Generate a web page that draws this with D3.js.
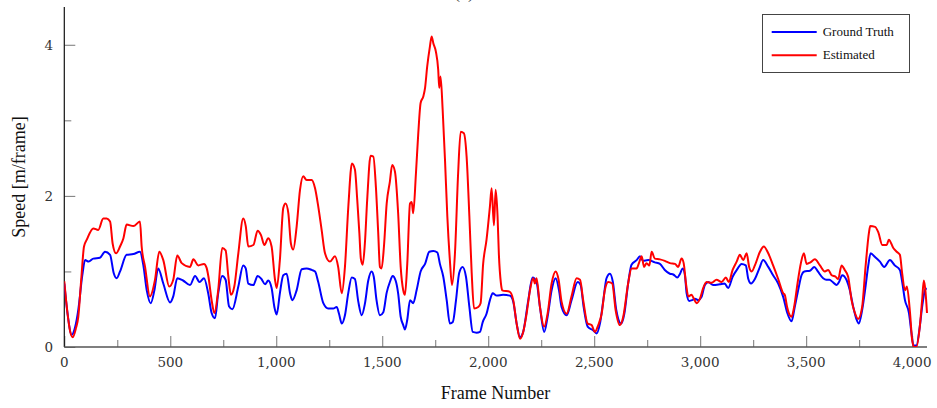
<!DOCTYPE html>
<html>
<head>
<meta charset="utf-8">
<script src="https://cdn.jsdelivr.net/npm/d3@7"></script>
<style>
  html, body { margin: 0; padding: 0; background: #fff; }
  svg { display: block; }
</style>
</head>
<body>
<svg id="chart" width="937" height="408"></svg>
<script>
const title = "(a)";
const xLabel = "Frame Number";
const yLabel = "Speed [m/frame]";
const seriesNames = ["Ground Truth", "Estimated"];
const xTickValues = [0, 500, 1000, 1500, 2000, 2500, 3000, 3500, 4000];
const xMinorTicks = [250, 750, 1250, 1750, 2250, 2750, 3250, 3750];
const yTickValues = [0, 2, 4];
const yMinorTicks = [1, 3];

const gtFrames = [0,15,35,50,66,85,98,115,137,168,192,216,233,247,263,294,326,357,373,389,408,425,443,467,499,514,533,560,593,617,638,659,679,695,711,726,745,761,777,793,821,844,856,868,892,912,930,947,962,978,991,1002,1017,1033,1049,1065,1076,1096,1120,1143,1167,1183,1198,1222,1245,1269,1285,1296,1309,1324,1340,1356,1371,1387,1403,1418,1434,1450,1460,1473,1489,1505,1521,1536,1549,1563,1575,1587,1599,1607,1618,1631,1646,1662,1681,1702,1722,1741,1760,1772,1788,1804,1819,1833,1848,1863,1879,1895,1911,1927,1945,1961,1974,1992,2008,2021,2040,2070,2102,2118,2134,2150,2165,2189,2209,2228,2244,2264,2280,2299,2318,2334,2346,2370,2393,2422,2436,2450,2469,2496,2511,2527,2543,2558,2574,2588,2604,2627,2642,2660,2676,2700,2716,2730,2755,2786,2810,2833,2857,2873,2892,2905,2917,2928,2936,2948,2962,2975,2991,3006,3022,3038,3061,3093,3115,3132,3153,3175,3195,3215,3227,3240,3258,3279,3297,3321,3344,3368,3392,3411,3431,3446,3462,3478,3491,3518,3538,3555,3580,3595,3610,3625,3644,3655,3670,3690,3706,3722,3737,3748,3764,3780,3793,3804,3825,3848,3868,3895,3918,3942,3953,3966,3985,3997,4006,4020,4036,4047,4060,4068];
const gtSpeed = [0.84,0.45,0.16,0.25,0.49,0.95,1.15,1.13,1.17,1.18,1.26,1.22,0.98,0.91,1.0,1.22,1.23,1.26,1.08,0.75,0.58,0.75,1.04,0.84,0.59,0.67,0.91,0.88,0.82,0.94,0.86,0.91,0.71,0.45,0.38,0.71,0.94,0.89,0.54,0.50,0.80,1.08,1.04,0.84,0.82,0.94,0.90,0.83,0.88,0.78,0.53,0.43,0.71,0.95,0.97,0.71,0.62,0.75,1.03,1.04,1.02,1.0,0.86,0.58,0.51,0.51,0.53,0.44,0.31,0.42,0.72,0.92,0.90,0.60,0.42,0.57,0.88,1.0,0.93,0.62,0.42,0.46,0.72,0.86,0.94,0.88,0.71,0.40,0.29,0.23,0.36,0.62,0.58,0.75,1.0,1.10,1.26,1.27,1.25,1.10,0.93,0.62,0.31,0.33,0.62,0.98,1.06,0.93,0.53,0.20,0.19,0.20,0.33,0.44,0.62,0.71,0.68,0.69,0.68,0.60,0.31,0.13,0.20,0.62,0.92,0.86,0.53,0.20,0.40,0.75,0.91,0.75,0.53,0.42,0.62,0.86,0.82,0.53,0.27,0.22,0.18,0.31,0.62,0.91,0.97,0.86,0.49,0.31,0.44,0.84,1.09,1.15,1.20,1.14,1.15,1.12,1.10,1.02,0.97,0.96,0.92,0.97,1.04,0.95,0.71,0.61,0.62,0.64,0.62,0.66,0.82,0.86,0.82,0.83,0.84,0.78,0.93,1.03,1.10,1.08,0.90,0.84,0.90,1.04,1.15,1.06,0.95,0.84,0.66,0.45,0.34,0.53,0.75,0.95,1.0,1.01,1.06,1.0,0.91,0.89,0.89,0.86,0.82,0.86,0.95,0.89,0.75,0.53,0.37,0.31,0.49,0.80,1.08,1.24,1.19,1.13,1.06,1.15,1.08,1.02,0.86,0.62,0.45,0.18,0.02,0.02,0.27,0.53,0.75,0.78];

const estFrames = [0,15,28,40,55,66,80,93,106,137,160,184,200,216,228,244,263,279,294,326,357,365,381,404,428,448,467,495,514,533,554,593,609,632,659,671,680,695,708,726,745,761,774,786,802,821,844,856,868,892,912,928,944,962,978,994,1002,1017,1033,1044,1057,1069,1080,1096,1112,1127,1143,1167,1183,1198,1214,1230,1253,1277,1292,1309,1324,1340,1357,1371,1382,1392,1399,1408,1418,1429,1445,1458,1470,1481,1489,1497,1508,1521,1536,1547,1560,1575,1587,1599,1607,1618,1631,1639,1646,1659,1670,1681,1694,1702,1712,1725,1733,1741,1753,1764,1769,1775,1785,1796,1807,1819,1829,1843,1858,1870,1885,1898,1911,1922,1933,1953,1964,1976,1992,2008,2016,2027,2035,2044,2050,2060,2066,2102,2118,2134,2150,2165,2181,2197,2212,2220,2228,2244,2264,2280,2299,2318,2332,2346,2370,2393,2417,2433,2448,2469,2488,2503,2519,2535,2550,2566,2585,2601,2621,2637,2660,2676,2700,2711,2724,2735,2747,2760,2771,2786,2810,2833,2857,2881,2896,2912,2922,2933,2944,2959,2970,2983,2999,3014,3030,3054,3077,3101,3121,3135,3153,3172,3187,3203,3219,3231,3243,3258,3282,3300,3321,3344,3368,3392,3399,3410,3418,3431,3443,3459,3475,3489,3502,3520,3541,3565,3588,3604,3620,3639,3651,3667,3682,3698,3714,3730,3745,3764,3780,3796,3802,3825,3840,3859,3880,3890,3911,3927,3942,3953,3966,3975,3990,4000,4009,4020,4036,4047,4055,4063,4070];
const estSpeed = [0.87,0.45,0.2,0.13,0.25,0.40,0.9,1.33,1.42,1.57,1.55,1.70,1.70,1.66,1.37,1.24,1.33,1.44,1.62,1.60,1.66,1.33,1.06,0.67,0.89,1.26,1.15,0.80,0.89,1.21,1.11,1.06,1.16,1.08,1.10,1.05,0.93,0.62,0.45,0.75,1.31,1.28,0.93,0.69,0.80,1.24,1.70,1.60,1.33,1.35,1.54,1.48,1.35,1.44,1.33,0.89,0.78,1.15,1.84,1.90,1.77,1.37,1.29,1.59,2.08,2.26,2.21,2.21,2.1,1.86,1.55,1.24,1.13,1.20,1.06,0.71,1.06,1.86,2.43,2.35,1.95,1.51,1.17,1.09,1.37,1.95,2.53,2.52,2.12,1.51,1.06,1.04,1.33,1.90,2.19,2.41,2.32,1.77,1.06,0.75,0.69,1.10,1.90,1.92,1.77,2.30,2.83,3.23,3.32,3.43,3.71,3.98,4.11,4.02,3.91,3.67,3.43,3.58,3.14,2.48,1.73,1.15,0.82,1.24,2.30,2.85,2.83,2.52,1.73,0.98,0.51,0.53,0.58,1.10,1.42,1.86,2.10,1.61,2.08,1.73,1.24,0.84,0.75,0.73,0.62,0.31,0.11,0.20,0.44,0.75,0.91,0.84,0.91,0.53,0.27,0.44,0.84,1.0,0.89,0.60,0.44,0.67,0.91,0.89,0.62,0.31,0.29,0.20,0.29,0.44,0.75,0.86,0.84,0.49,0.29,0.40,0.84,1.04,1.04,1.11,1.20,1.06,1.11,1.08,1.26,1.17,1.16,1.14,1.11,1.10,1.06,1.17,1.11,0.84,0.67,0.69,0.64,0.58,0.64,0.78,0.86,0.85,0.89,0.86,0.92,0.86,1.02,1.13,1.22,1.15,1.24,1.06,1.0,1.08,1.26,1.33,1.24,1.08,0.90,0.71,0.69,0.53,0.45,0.40,0.53,0.84,1.11,1.24,1.10,1.12,1.16,1.08,1.0,1.02,0.95,0.93,0.90,1.08,1.02,0.93,0.62,0.45,0.37,0.53,1.06,1.51,1.60,1.59,1.52,1.35,1.35,1.42,1.31,1.26,1.22,0.97,0.75,0.80,0.45,0.09,0.0,0.0,0.27,0.62,0.88,0.73,0.45];

const seriesColors = ["#0000ff", "#ff0000"];

const svg = d3.select("#chart");
const padL = 64.3, padR = 927, padT = 7, padB = 347;

const x = d3.scaleLinear().domain([0, 4070]).range([padL, padR]);
const y = d3.scaleLinear().domain([0, 4.5]).range([padB, padT]);

const fmt = d3.format(",");

svg.append("defs").append("clipPath").attr("id", "clip")
  .append("rect").attr("x", padL).attr("y", padT - 2).attr("width", padR - padL + 2).attr("height", padB - padT + 2);

// x axis ticks (inward)
const xAxis = svg.append("g").attr("transform", `translate(0,${padB})`);
xAxis.call(d3.axisTop(x).tickValues(xTickValues).tickSize(11).tickFormat(""));
xAxis.call(g => g.select(".domain").remove());
xAxis.selectAll(".tick line").attr("stroke", "#777").attr("stroke-width", 1);
const xMinor = svg.append("g").attr("transform", `translate(0,${padB})`);
xMinor.call(d3.axisTop(x).tickValues(xMinorTicks).tickSize(7).tickFormat(""));
xMinor.call(g => g.select(".domain").remove());
xMinor.selectAll(".tick line").attr("stroke", "#777").attr("stroke-width", 1);

svg.append("g").selectAll("text").data(xTickValues).join("text")
  .attr("x", d => x(d)).attr("y", 367)
  .attr("text-anchor", "middle")
  .attr("font-family", "DejaVu Serif")
  .attr("font-size", 13.5)
  .attr("fill", "#333")
  .text(d => fmt(d));

// y axis ticks (inward)
const yAxis = svg.append("g").attr("transform", `translate(${padL},0)`);
yAxis.call(d3.axisRight(y).tickValues(yTickValues).tickSize(11).tickFormat(""));
yAxis.call(g => g.select(".domain").remove());
yAxis.selectAll(".tick line").attr("stroke", "#777").attr("stroke-width", 1);
const yMinor = svg.append("g").attr("transform", `translate(${padL},0)`);
yMinor.call(d3.axisRight(y).tickValues(yMinorTicks).tickSize(7).tickFormat(""));
yMinor.call(g => g.select(".domain").remove());
yMinor.selectAll(".tick line").attr("stroke", "#777").attr("stroke-width", 1);

svg.append("g").selectAll("text").data(yTickValues).join("text")
  .attr("x", 53).attr("y", d => y(d) + 5)
  .attr("text-anchor", "end")
  .attr("font-family", "DejaVu Serif")
  .attr("font-size", 13.5)
  .attr("fill", "#333")
  .text(d => fmt(d));

// axis lines
svg.append("line").attr("x1", padL).attr("x2", padL).attr("y1", padT).attr("y2", padB)
  .attr("stroke", "#111").attr("stroke-width", 1.2);
svg.append("line").attr("x1", padL).attr("x2", padR).attr("y1", padB).attr("y2", padB)
  .attr("stroke", "#555").attr("stroke-width", 1.3);

// series
const line = d3.line().x(d => x(d[0])).y(d => y(d[1])).curve(d3.curveMonotoneX);
const gtData = d3.zip(gtFrames, gtSpeed);
const estData = d3.zip(estFrames, estSpeed);
const plot = svg.append("g").attr("clip-path", "url(#clip)");
plot.append("path").datum(gtData).attr("d", line)
  .attr("fill", "none").attr("stroke", seriesColors[0]).attr("stroke-width", 2).attr("stroke-linejoin", "round");
plot.append("path").datum(estData).attr("d", line)
  .attr("fill", "none").attr("stroke", seriesColors[1]).attr("stroke-width", 2).attr("stroke-linejoin", "round");

// labels
svg.append("text").attr("x", 495.5).attr("y", 399)
  .attr("text-anchor", "middle").attr("font-family", "Liberation Serif").attr("font-size", 18)
  .attr("fill", "#111").text(xLabel);
svg.append("text").attr("transform", `translate(25,${(padT + padB) / 2}) rotate(-90)`)
  .attr("text-anchor", "middle").attr("font-family", "Liberation Serif").attr("font-size", 18)
  .attr("fill", "#111").text(yLabel);
svg.append("text").attr("x", 464).attr("y", -2.5)
  .attr("text-anchor", "middle").attr("font-family", "Liberation Serif").attr("font-size", 18)
  .attr("fill", "#333").text(title);

// legend
const lg = svg.append("g");
lg.append("rect").attr("x", 762.5).attr("y", 14.5).attr("width", 147).attr("height", 58)
  .attr("fill", "#fff").attr("stroke", "#444").attr("stroke-width", 1);
const legendRows = [32, 55.3];
seriesNames.forEach((name, i) => {
  lg.append("line").attr("x1", 771.7).attr("x2", 816.7).attr("y1", legendRows[i]).attr("y2", legendRows[i])
    .attr("stroke", seriesColors[i]).attr("stroke-width", 2);
  lg.append("text").attr("x", 822.7).attr("y", legendRows[i] + 4)
    .attr("font-family", "Liberation Serif").attr("font-size", 13)
    .attr("fill", "#111").text(name);
});
</script>
</body>
</html>
